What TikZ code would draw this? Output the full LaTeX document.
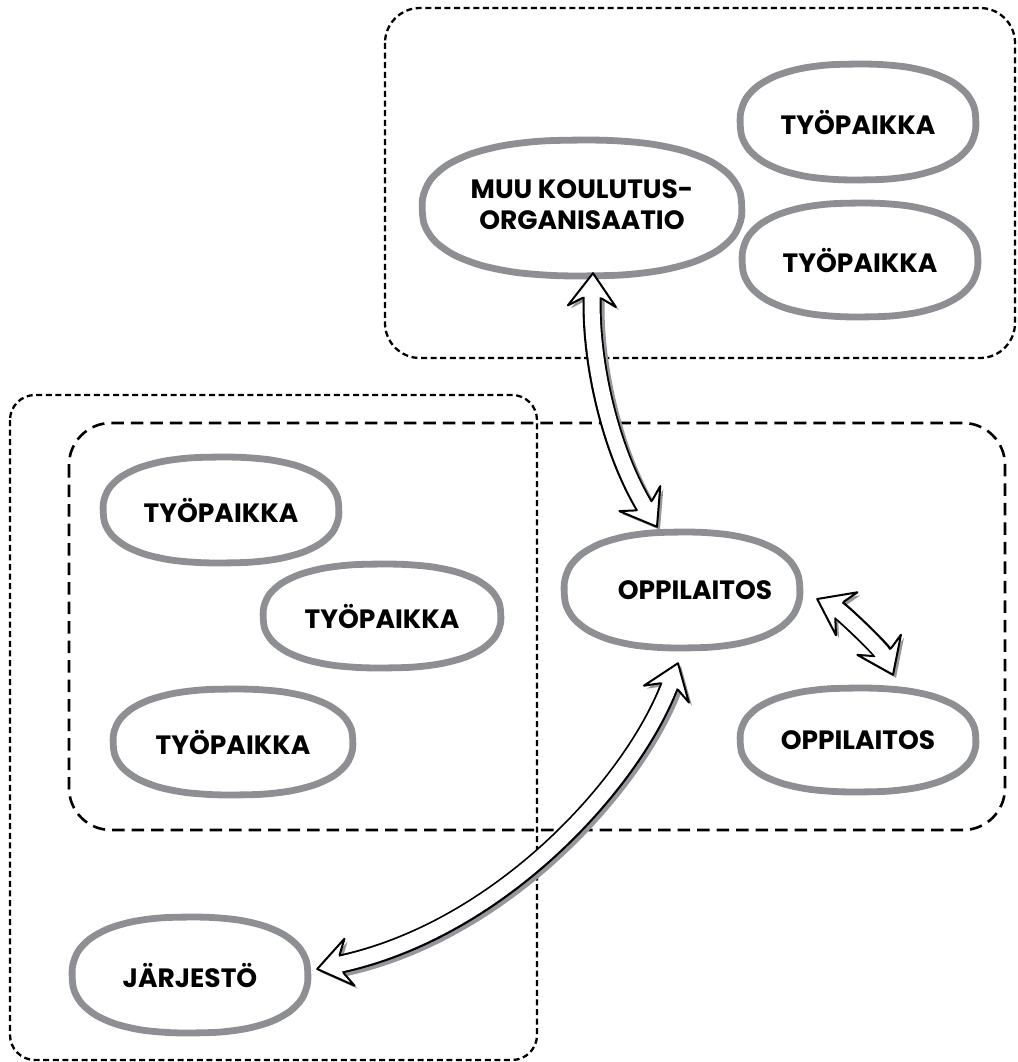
\documentclass[tikz,border=0pt]{standalone}
\usepackage{fontspec}
\setmainfont{Poppins}
\usetikzlibrary{decorations.markings,calc,shapes.geometric}
\definecolor{blobgray}{RGB}{142,143,147}
\definecolor{shadowgray}{RGB}{150,150,156}
\newcommand\blobfont{\fontsize{26.5}{31}\selectfont\bfseries}
\def\headpath{(0,0) -- (-33,24) -- (-25,9.5) -- (-25,-9.5) -- (-33,-24) -- cycle}
\tikzset{
  place/.style={ellipse, inner sep=0pt, font=\blobfont},
  blobline/.style={draw=blobgray, line width=6.8pt},
  shortbox/.style={draw=black, line width=2.3pt, dash pattern=on 6pt off 3.6pt},
  longbox/.style={draw=black, line width=2.6pt, dash pattern=on 12.5pt off 7pt},
}
\newcommand\blob[3]{%
  \draw[blobline, shift={(#1.center)}] plot[smooth cycle, samples=24, domain=5:350, variable=\t]
    ({#2*sign(cos(\t))*abs(cos(\t))^0.84}, {#3*sign(sin(\t))*abs(sin(\t))^0.84});}
\newcommand\hollowarrow[1]{%
  \begin{scope}[transform canvas={shift={(3pt,-3pt)}}]
    \draw[shadowgray, line width=19pt, shorten <=23pt, shorten >=23pt] #1;
    \path[decorate, decoration={markings,
      mark=at position 0 with {\fill[shadowgray, rotate=180] \headpath;},
      mark=at position 0.9999 with {\fill[shadowgray] \headpath;}}] #1;
  \end{scope}
  \draw[black, line width=19pt, shorten <=23pt, shorten >=23pt] #1;
  \path[decorate, decoration={markings,
    mark=at position 0 with {\filldraw[fill=white, draw=black, line width=2pt, line join=round, rotate=180] \headpath;},
    mark=at position 0.9999 with {\filldraw[fill=white, draw=black, line width=2pt, line join=round] \headpath;}}] #1;
  \draw[white, line width=15pt, shorten <=21pt, shorten >=21pt] #1;
}
\begin{document}
\begin{tikzpicture}[x=1pt, y=-1pt]
\useasboundingbox (0,0) rectangle (1017,1062);
% dashed boxes
\draw[shortbox, rounded corners=35pt] (385,8) rectangle (1015,358);
\draw[shortbox, rounded corners=25pt] (10,395) rectangle (537,1060);
\draw[longbox, rounded corners=42pt] (69,423) rectangle (1005,830);
% nodes
\node[place, minimum width=320pt, minimum height=136pt] (muu) at (582,208)
  {\makebox[0pt]{\begin{tabular}{@{}c@{}}MUU KOULUTUS-\\ORGANISAATIO\end{tabular}}};
\node[place, minimum width=236pt, minimum height=116pt] (tyA) at (858,122) {\makebox[0pt]{TYÖPAIKKA}};
\node[place, minimum width=236pt, minimum height=114pt] (tyB) at (860,260) {\makebox[0pt]{TYÖPAIKKA}};
\node[place, minimum width=236pt, minimum height=106pt] (tyL1) at (221,510) {\makebox[0pt]{TYÖPAIKKA}};
\node[place, minimum width=238pt, minimum height=104pt] (tyL2) at (382,616) {\makebox[0pt]{TYÖPAIKKA}};
\node[place, minimum width=240pt, minimum height=106pt] (tyL3) at (233,742) {\makebox[0pt]{TYÖPAIKKA}};
\node[place, minimum width=236pt, minimum height=116pt] (opp1) at (682,590) {\makebox[0pt]{\hspace*{26pt}OPPILAITOS}};
\node[place, minimum width=236pt, minimum height=104pt] (opp2) at (858,740) {\makebox[0pt]{OPPILAITOS}};
\node[place, minimum width=236pt, minimum height=116pt] (jar) at (190,975) {\makebox[0pt]{JÄRJESTÖ}};
% blobs
\blob{muu}{160}{68}
\blob{tyA}{118}{58}
\blob{tyB}{118}{57}
\blob{tyL1}{118}{53}
\blob{tyL2}{119}{52}
\blob{tyL3}{120}{53}
\blob{opp1}{118}{58}
\blob{opp2}{118}{52}
\blob{jar}{118}{58}
% arrows
\hollowarrow{($(muu.south)+(11,-3)$) .. controls +(-3,87) and +(-47,-77) .. ($(opp1.north)+(-25,-5)$)}
\hollowarrow{($(opp1.east)+(17,9)$) .. controls +(24,12) and +(-12,-26) .. ($(opp2.north)+(35,-13)$)}
\hollowarrow{($(opp1.south)+(-4,15)$) .. controls +(-45,120) and +(183,-39) .. ($(jar.east)+(9,-6)$)}
\end{tikzpicture}
\end{document}
